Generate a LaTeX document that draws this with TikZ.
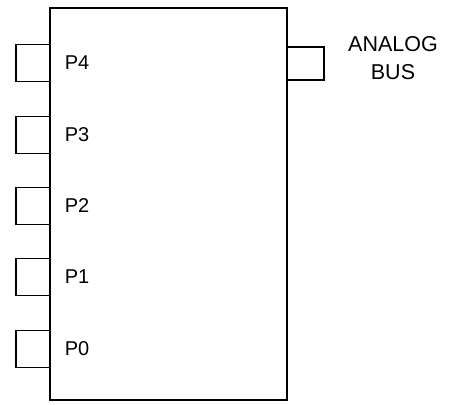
\documentclass[tikz,border=0pt]{standalone}
\usepackage{fontspec}
\setmainfont{Liberation Sans}
\usetikzlibrary{positioning}

\begin{document}
\begin{tikzpicture}[x=1pt, y=-1pt, line width=1.6pt,
        chipbox/.style = {draw, minimum width=237pt, minimum height=392pt, inner sep=0pt},
        pinbox/.style = {draw, minimum width=34pt, minimum height=37pt, inner sep=0pt},
        pinlabel/.style = {inner sep=0pt, font=\fontsize{20}{28}\selectfont}]
            \useasboundingbox (0,0) rectangle (457,404);

            \node[chipbox] (chip) at (168.5,204) {};
            \foreach \i/\y in {4/63, 3/135, 2/206, 1/277, 0/349} {
                \node[pinbox] (pin\i) at (33,\y) {};
                \node[pinlabel, anchor=west] (P\i) at (64,\y) {P\i};
            }

            \node[pinbox, minimum width=37pt, minimum height=33pt] (bus) at (305.5,63.5) {};
            \node[pinlabel, align=center, font=\fontsize{21.5}{28}\selectfont] (analog) at (393,58.5) {ANALOG\\BUS};

        \end{tikzpicture}
\end{document}
